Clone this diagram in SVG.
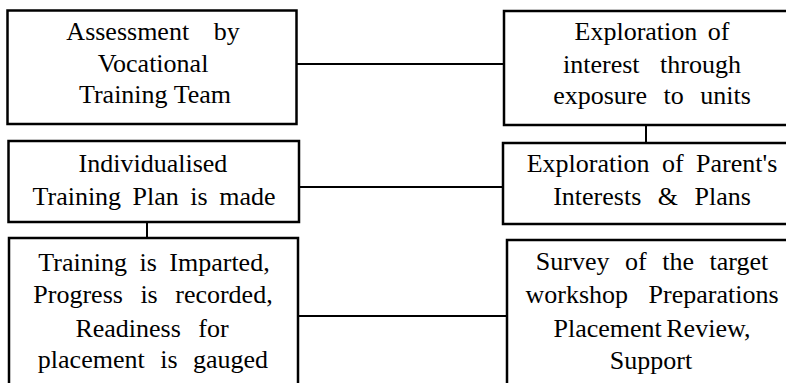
<svg xmlns="http://www.w3.org/2000/svg" width="786" height="383" viewBox="0 0 786 383">
<style>
.box{fill:#fff;stroke:#000;stroke-width:2.5}
.con{stroke:#000;stroke-width:2;fill:none}
.t{font-family:'Liberation Serif','Times New Roman','DejaVu Serif',serif;font-size:26px;fill:#000;text-anchor:middle}
</style>
<rect width="786" height="383" fill="#fff"/>
<g id="connectors">
<line class="con" x1="297" y1="64" x2="504" y2="64"/>
<line class="con" x1="299" y1="187" x2="503" y2="187"/>
<line class="con" x1="298" y1="316" x2="507" y2="316"/>
<line class="con" x1="147" y1="222" x2="147" y2="238"/>
<line class="con" x1="646" y1="125" x2="646" y2="143"/>
</g>
<g id="n1" class="t" font-family="Liberation Serif, serif">
<rect class="box" x="7.5" y="10.5" width="289" height="113.5"/>
<text x="153" y="40" word-spacing="18">Assessment by</text>
<text x="153" y="72">Vocational</text>
<text x="155" y="103">Training Team</text>
</g>
<g id="n2" class="t" font-family="Liberation Serif, serif">
<rect class="box" x="8.5" y="141" width="290.5" height="81"/>
<text x="153" y="172">Individualised</text>
<text x="154" y="205" word-spacing="5">Training Plan is made</text>
</g>
<g id="n3" class="t" font-family="Liberation Serif, serif">
<rect class="box" x="9" y="238" width="289" height="170"/>
<text x="154" y="271" word-spacing="6">Training is Imparted,</text>
<text x="153" y="303" word-spacing="11">Progress is recorded,</text>
<text x="152" y="337" word-spacing="11">Readiness for</text>
<text x="153" y="368" word-spacing="9">placement is gauged</text>
</g>
<g id="n4" class="t" font-family="Liberation Serif, serif">
<rect class="box" x="504" y="11" width="300" height="114"/>
<text x="652" y="40" word-spacing="4">Exploration of</text>
<text x="652" y="73" word-spacing="14">interest through</text>
<text x="652" y="104" word-spacing="10">exposure to units</text>
</g>
<g id="n5" class="t" font-family="Liberation Serif, serif">
<rect class="box" x="503" y="143" width="300" height="81"/>
<text x="652" y="172" word-spacing="6">Exploration of Parent's</text>
<text x="652" y="205" word-spacing="10">Interests &amp; Plans</text>
</g>
<g id="n6" class="t" font-family="Liberation Serif, serif">
<rect class="box" x="507" y="240" width="300" height="170"/>
<text x="652" y="270" word-spacing="9">Survey of the target</text>
<text x="652" y="303" word-spacing="14">workshop Preparations</text>
<text x="652" y="337" word-spacing="-2">Placement Review,</text>
<text x="651" y="369">Support</text>
</g>
</svg>
